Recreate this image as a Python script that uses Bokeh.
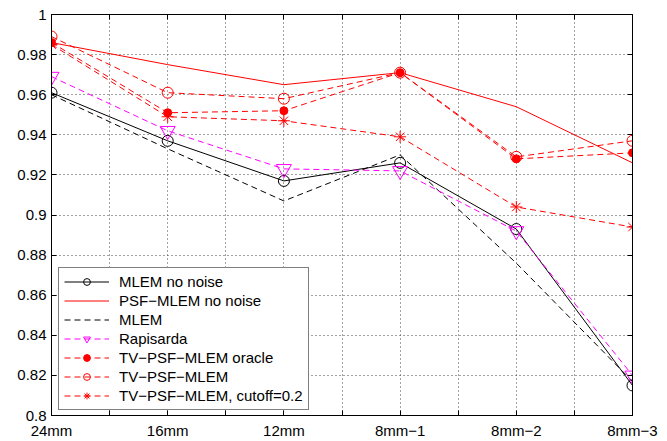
from bokeh.plotting import figure
from bokeh.models import FixedTicker, CustomJSTickFormatter, LinearAxis, Range1d
from bokeh.embed import file_html
from bokeh.resources import INLINE

# ---- data ----
categories = ["24mm", "16mm", "12mm", "8mm\u22121", "8mm\u22122", "8mm\u22123"]
mlem_nonoise = [0.961, 0.937, 0.917, 0.926, 0.893, 0.815]
psf_nonoise = [0.986, 0.975, 0.965, 0.971, 0.954, 0.926]
mlem = [0.960, 0.933, 0.907, 0.930, 0.876, 0.817]
rapisarda = [0.969, 0.942, 0.923, 0.922, 0.892, 0.820]
tv_oracle = [0.986, 0.951, 0.952, 0.971, 0.928, 0.931]
tv = [0.989, 0.961, 0.958, 0.971, 0.929, 0.937]
tv_cutoff = [0.985, 0.949, 0.947, 0.939, 0.904, 0.894]

y_ticks = [0.8, 0.82, 0.84, 0.86, 0.88, 0.9, 0.92, 0.94, 0.96, 0.98, 1.0]
y_tick_labels = ["0.8", "0.82", "0.84", "0.86", "0.88", "0.9", "0.92", "0.94", "0.96", "0.98", "1"]

xs = list(range(len(categories)))
half_ticks = [i + 0.5 for i in xs[:-1]]

FONT = "Liberation Sans"
FS = "15px"
DASH = "6 4"

p = figure(width=667, height=441, output_backend="svg", toolbar_location=None,
           x_range=Range1d(0, len(categories) - 1), y_range=Range1d(0.8, 1.0),
           min_border_left=51, min_border_right=35, min_border_top=14, min_border_bottom=24,
           background_fill_color="white", border_fill_color="white")
p.outline_line_color = "black"
p.outline_line_width = 1

x_ticker = FixedTicker(ticks=xs, minor_ticks=half_ticks)
y_ticker = FixedTicker(ticks=y_ticks)
x_fmt = CustomJSTickFormatter(args=dict(cats=categories),
                              code="const i = Math.round(tick); return (Math.abs(tick - i) < 1e-6 && i >= 0 && i < cats.length) ? cats[i] : '';")
y_fmt = CustomJSTickFormatter(args=dict(ylabs=y_tick_labels, yvals=y_ticks),
                              code="let b = 0; for (let i = 0; i < yvals.length; i++) { if (Math.abs(yvals[i]-tick) < Math.abs(yvals[b]-tick)) b = i; } return ylabs[b];")
blank_fmt = CustomJSTickFormatter(code="return '';")

def style_axis(ax, standoff):
    ax.axis_line_color = "black"
    ax.axis_line_width = 1
    ax.major_tick_in = 5
    ax.major_tick_out = 0
    ax.minor_tick_in = 5
    ax.minor_tick_out = 0
    ax.major_tick_line_color = "black"
    ax.minor_tick_line_color = "black"
    ax.major_label_text_font = FONT
    ax.major_label_text_font_size = FS
    ax.major_label_text_color = "black"
    ax.major_label_standoff = standoff

xa = p.xaxis[0]
xa.ticker = x_ticker
xa.formatter = x_fmt
style_axis(xa, 6)
ya = p.yaxis[0]
ya.ticker = y_ticker
ya.formatter = y_fmt
style_axis(ya, 5)
ya.minor_tick_line_color = None

top_ax = LinearAxis(ticker=FixedTicker(ticks=xs, minor_ticks=half_ticks), formatter=blank_fmt)
style_axis(top_ax, 0)
p.add_layout(top_ax, "above")
right_ax = LinearAxis(ticker=FixedTicker(ticks=y_ticks), formatter=blank_fmt)
style_axis(right_ax, 0)
right_ax.minor_tick_line_color = None
p.add_layout(right_ax, "right")

p.xgrid.ticker = x_ticker
p.xgrid.grid_line_color = "#444444"
p.xgrid.grid_line_dash = "1 3"
p.xgrid.minor_grid_line_color = "#444444"
p.xgrid.minor_grid_line_dash = "1 3"
p.ygrid.ticker = y_ticker
p.ygrid.grid_line_color = "#444444"
p.ygrid.grid_line_dash = "1 3"

# ---- series ----
lab = "MLEM no noise"
p.line(xs, mlem_nonoise, color="black", line_width=1, legend_label=lab)
p.scatter(xs, mlem_nonoise, marker="circle", size=11, line_color="black", fill_color=None, line_width=1, legend_label=lab)

lab = "PSF\u2212MLEM no noise"
p.line(xs, psf_nonoise, color="#FF0000", line_width=1, legend_label=lab)

lab = "MLEM"
p.line(xs, mlem, color="black", line_width=1, line_dash=DASH, legend_label=lab)

lab = "Rapisarda"
p.line(xs, rapisarda, color="#FF00FF", line_width=1, line_dash=DASH, legend_label=lab)
p.scatter(xs, rapisarda, marker="inverted_triangle", size=15, line_color="#FF00FF", fill_color=None, line_width=1, legend_label=lab)

lab = "TV\u2212PSF\u2212MLEM oracle"
p.line(xs, tv_oracle, color="#FF0000", line_width=1, line_dash=DASH, legend_label=lab)
p.scatter(xs, tv_oracle, marker="circle", size=8, line_color="#FF0000", fill_color="#FF0000", line_width=1, legend_label=lab)

lab = "TV\u2212PSF\u2212MLEM"
p.line(xs, tv, color="#FF0000", line_width=1, line_dash=DASH, legend_label=lab)
p.scatter(xs, tv, marker="circle", size=11, line_color="#FF0000", fill_color=None, line_width=1, legend_label=lab)

lab = "TV\u2212PSF\u2212MLEM, cutoff=0.2"
p.line(xs, tv_cutoff, color="#FF0000", line_width=1, line_dash=DASH, legend_label=lab)
p.scatter(xs, tv_cutoff, marker="asterisk", size=12, line_color="#FF0000", line_width=1, legend_label=lab)

lg = p.legend[0]
lg.location = (7, 5)
lg.margin = 0
lg.padding = 5
lg.spacing = 2
lg.glyph_width = 45
lg.glyph_height = 17
lg.label_height = 17
lg.label_standoff = 10
lg.label_text_font = FONT
lg.label_text_font_size = FS
lg.label_text_color = "black"
lg.border_line_color = "black"
lg.border_line_width = 1
lg.background_fill_color = "white"
lg.background_fill_alpha = 1.0

open("out.html", "w").write(file_html(p, INLINE))
